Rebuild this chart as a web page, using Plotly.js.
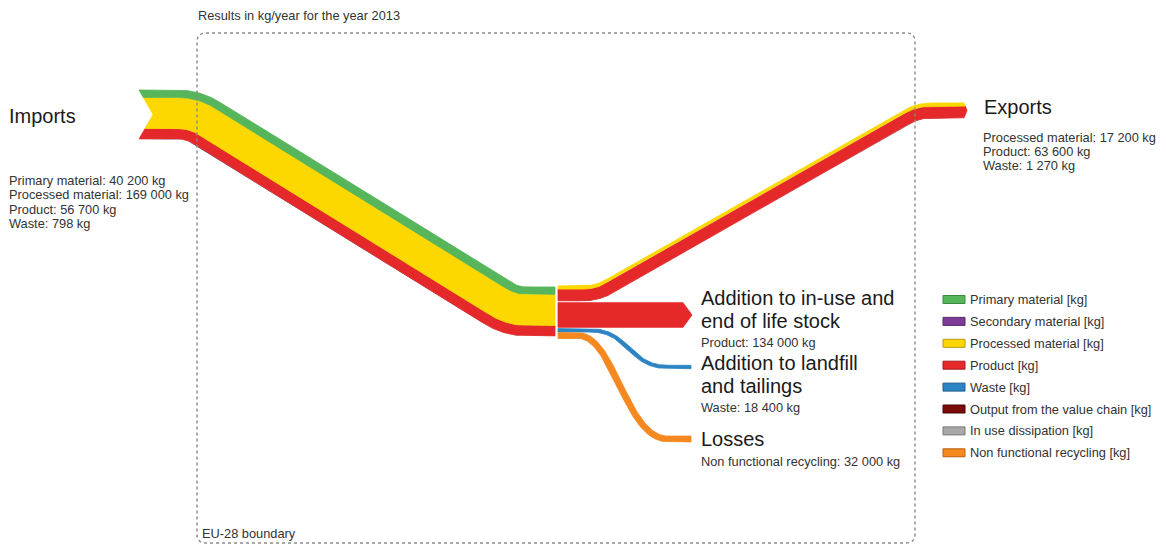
<!DOCTYPE html>
<html>
<head>
<meta charset="utf-8">
<script src="https://cdn.plot.ly/plotly-3.0.1.min.js"></script>
<style>html,body{margin:0;padding:0;background:#fff;}#chart{width:1166px;height:545px;}</style>
</head>
<body>
<div id="chart"></div>
<script>
// ---------------- DATA ----------------
const chartTitle = 'Results in kg/year for the year 2013';
const boundaryLabel = 'EU-28 boundary';

const importCats = ['Primary material', 'Processed material', 'Product', 'Waste'];
const importVals = [40200, 169000, 56700, 798];

const exportCats = ['Processed material', 'Product', 'Waste'];
const exportVals = [17200, 63600, 1270];

const sinkTitles = [['Addition to in-use and', 'end of life stock'], ['Addition to landfill', 'and tailings'], ['Losses']];
const sinkCats = ['Product', 'Waste', 'Non functional recycling'];
const sinkVals = [134000, 18400, 32000];

const legendCats = ['Primary material', 'Secondary material', 'Processed material', 'Product', 'Waste',
  'Output from the value chain', 'In use dissipation', 'Non functional recycling'];
const legendColors = ['#57b55b', '#7d3c98', '#fdd800', '#e5282a', '#2c84c4', '#7b0a0a', '#a8a8a8', '#f5891f'];
const legendBorders = ['#3a8a3e', '#562a6a', '#b89c00', '#a81c1e', '#1f5f8e', '#4a0505', '#787878', '#b8620f'];

// ---------------- STYLE / SIZE ----------------
const KG_PX = 1.84e-4;  // band thickness in px per kg
const FONT = 'Arial, "Liberation Sans", sans-serif';
const colorOf = c => legendColors[legendCats.indexOf(c)];
const fmt = v => String(v).replace(/\B(?=(\d{3})+(?!\d))/g, ' ');

// ---------------- GEOMETRY HELPERS ----------------
function dist(a, b) { return Math.hypot(b[0] - a[0], b[1] - a[1]); }
function samplePath(cmds) {
  const pts = []; let cur;
  for (const c of cmds) {
    if (c[0] === 'M') { cur = [c[1], c[2]]; pts.push(cur); }
    else if (c[0] === 'L') {
      const e = [c[1], c[2]]; const n = Math.max(1, Math.ceil(dist(cur, e) / 2));
      for (let i = 1; i <= n; i++) { const t = i / n; pts.push([cur[0] + (e[0] - cur[0]) * t, cur[1] + (e[1] - cur[1]) * t]); }
      cur = e;
    } else if (c[0] === 'Q') {
      const n = 40;
      for (let i = 1; i <= n; i++) {
        const t = i / n, u = 1 - t;
        pts.push([u * u * cur[0] + 2 * u * t * c[1] + t * t * c[3], u * u * cur[1] + 2 * u * t * c[2] + t * t * c[4]]);
      }
      cur = [c[3], c[4]];
    } else if (c[0] === 'C') {
      const n = 100;
      for (let i = 1; i <= n; i++) {
        const t = i / n, u = 1 - t;
        pts.push([u * u * u * cur[0] + 3 * u * u * t * c[1] + 3 * u * t * t * c[3] + t * t * t * c[5],
                  u * u * u * cur[1] + 3 * u * u * t * c[2] + 3 * u * t * t * c[4] + t * t * t * c[6]]);
      }
      cur = [c[5], c[6]];
    }
  }
  return pts;
}
function roundedCmds(verts, L) {
  const cmds = [['M', verts[0][0], verts[0][1]]];
  for (let i = 1; i < verts.length - 1; i++) {
    const a = verts[i - 1], b = verts[i], c = verts[i + 1];
    const l1 = dist(a, b), l2 = dist(b, c);
    const u1 = [(b[0] - a[0]) / l1, (b[1] - a[1]) / l1], u2 = [(c[0] - b[0]) / l2, (c[1] - b[1]) / l2];
    const p1 = [b[0] - u1[0] * L, b[1] - u1[1] * L], p2 = [b[0] + u2[0] * L, b[1] + u2[1] * L];
    cmds.push(['L', p1[0], p1[1]]);
    cmds.push(['Q', b[0], b[1], p2[0], p2[1]]);
  }
  const z = verts[verts.length - 1];
  cmds.push(['L', z[0], z[1]]);
  return cmds;
}
function ribbon(pts, d1, d2, H, notch, tip) {
  const n = pts.length, T = [], N = [], S = [0];
  for (let i = 0; i < n; i++) {
    const a = pts[Math.max(0, i - 1)], b = pts[Math.min(n - 1, i + 1)];
    const l = dist(a, b) || 1; const t = [(b[0] - a[0]) / l, (b[1] - a[1]) / l];
    T.push(t); N.push([-t[1], t[0]]);
    if (i > 0) S.push(S[i - 1] + dist(pts[i - 1], pts[i]));
  }
  const sh = d => notch * Math.max(0, 1 - Math.abs(d) / H);
  const eh = d => tip * Math.max(0, 1 - Math.abs(d) / H);
  const startPt = d => [pts[0][0] + T[0][0] * sh(d) + N[0][0] * d, pts[0][1] + T[0][1] * sh(d) + N[0][1] * d];
  const endPt = d => [pts[n - 1][0] + T[n - 1][0] * eh(d) + N[n - 1][0] * d, pts[n - 1][1] + T[n - 1][1] * eh(d) + N[n - 1][1] * d];
  const curve = d => {
    const arr = [startPt(d)];
    for (let i = 1; i < n - 1; i++) if (S[i] > sh(d) + 0.3) arr.push([pts[i][0] + N[i][0] * d, pts[i][1] + N[i][1] * d]);
    arr.push(endPt(d));
    return arr;
  };
  let poly = curve(d1);
  const mid = d1 < 0 && d2 > 0;
  if (mid) poly.push(endPt(0));
  poly = poly.concat(curve(d2).reverse());
  if (mid) poly.push(startPt(0));
  poly.push(poly[0]);
  return { x: poly.map(p => p[0]), y: poly.map(p => p[1]) };
}
function flowTraces(pts, cats, vals, notch, tip) {
  const total = vals.reduce((a, b) => a + b, 0) * KG_PX;
  let d = -total / 2; const out = [];
  cats.forEach((c, i) => {
    const w = vals[i] * KG_PX;
    const p = ribbon(pts, d, d + w, total / 2, notch, tip);
    d += w;
    out.push({ type: 'scatter', mode: 'lines', x: p.x, y: p.y, fill: 'toself', fillcolor: colorOf(c),
      line: { color: colorOf(c), width: w >= 1 ? 0.8 : 0 }, hoverinfo: 'skip', showlegend: false });
  });
  // draw bottom bands first so the bands above overlap their edges cleanly
  return out.reverse();
}

// ---------------- PATH ROUTES (layout) ----------------
const importPath = samplePath(roundedCmds([[139, 114.5], [193, 114.5], [511, 311.5], [555, 311.5]], 16));
const exportPath = samplePath(roundedCmds([[558, 293.5], [597, 293.5], [918, 110.5], [964, 110.5]], 14));
const sinkPaths = [
  samplePath([['M', 558, 315], ['L', 683, 315]]),
  samplePath([['M', 558, 330.3], ['L', 590, 330.3], ['C', 630, 330.3, 628, 367, 668, 367], ['L', 691, 367]]),
  samplePath([['M', 558, 335.5], ['L', 578, 335.5], ['C', 615, 335.5, 625, 439, 668, 439], ['L', 691, 439]])
];
const sinkTips = [9, 0, 0];

let traces = [];
traces = traces.concat(flowTraces(importPath, importCats, importVals, 14, 0));
traces = traces.concat(flowTraces(exportPath, exportCats, exportVals, 0, 3));
sinkPaths.forEach((p, i) => { traces = traces.concat(flowTraces(p, [sinkCats[i]], [sinkVals[i]], 0, sinkTips[i])); });

// ---------------- TEXT ----------------
const annotations = [];
function ann(x, y, text, size, color) {
  annotations.push({ x, y, xref: 'x', yref: 'y', text, showarrow: false, xanchor: 'left', yanchor: 'middle',
    font: { family: FONT, size, color }, borderpad: 0 });
}
ann(197, 15, chartTitle, 12.8, '#333');
ann(201, 533, boundaryLabel, 12.8, '#333');
ann(8, 116, 'Imports', 20, '#1a1a1a');
importCats.forEach((c, i) => ann(8, 180 + i * 14.5, c + ': ' + fmt(importVals[i]) + ' kg', 12.8, '#333'));
ann(983, 107, 'Exports', 20, '#1a1a1a');
exportCats.forEach((c, i) => ann(982, 137.5 + i * 13.8, c + ': ' + fmt(exportVals[i]) + ' kg', 12.8, '#333'));
const sinkTitleY = [298, 363, 439];
sinkTitles.forEach((lines, i) => {
  lines.forEach((ln, j) => ann(700, sinkTitleY[i] + j * 22.5, ln, 20, '#1a1a1a'));
  ann(700, sinkTitleY[i] + lines.length * 22.5 - 0.5, sinkCats[i] + ': ' + fmt(sinkVals[i]) + ' kg', 12.8, '#333');
});

// ---------------- LEGEND ----------------
const shapes = [];
legendCats.forEach((c, i) => {
  const y = 299.5 + i * 21.9;
  shapes.push({ type: 'rect', xref: 'x', yref: 'y', x0: 943, x1: 965, y0: y - 4, y1: y + 4,
    fillcolor: legendColors[i], line: { color: legendBorders[i], width: 1 } });
  ann(969, y, c + ' [kg]', 12.8, '#333');
});

// boundary
shapes.push({ type: 'path', xref: 'x', yref: 'y',
  path: 'M 206 33 L 906 33 Q 915 33 915 42 L 915 534 Q 915 543 906 543 L 206 543 Q 197 543 197 534 L 197 42 Q 197 33 206 33 Z',
  line: { color: '#8a8a8a', width: 1.4, dash: 'dot' }, fillcolor: 'rgba(0,0,0,0)', layer: 'above' });

const layout = {
  width: 1166, height: 545, margin: { l: 0, r: 0, t: 0, b: 0 },
  paper_bgcolor: '#fff', plot_bgcolor: '#fff', showlegend: false, hovermode: false,
  xaxis: { range: [0, 1166], visible: false, fixedrange: true },
  yaxis: { range: [545, 0], visible: false, fixedrange: true },
  annotations, shapes
};
Plotly.newPlot('chart', traces, layout, { displayModeBar: false, staticPlot: true });
</script>
</body>
</html>
